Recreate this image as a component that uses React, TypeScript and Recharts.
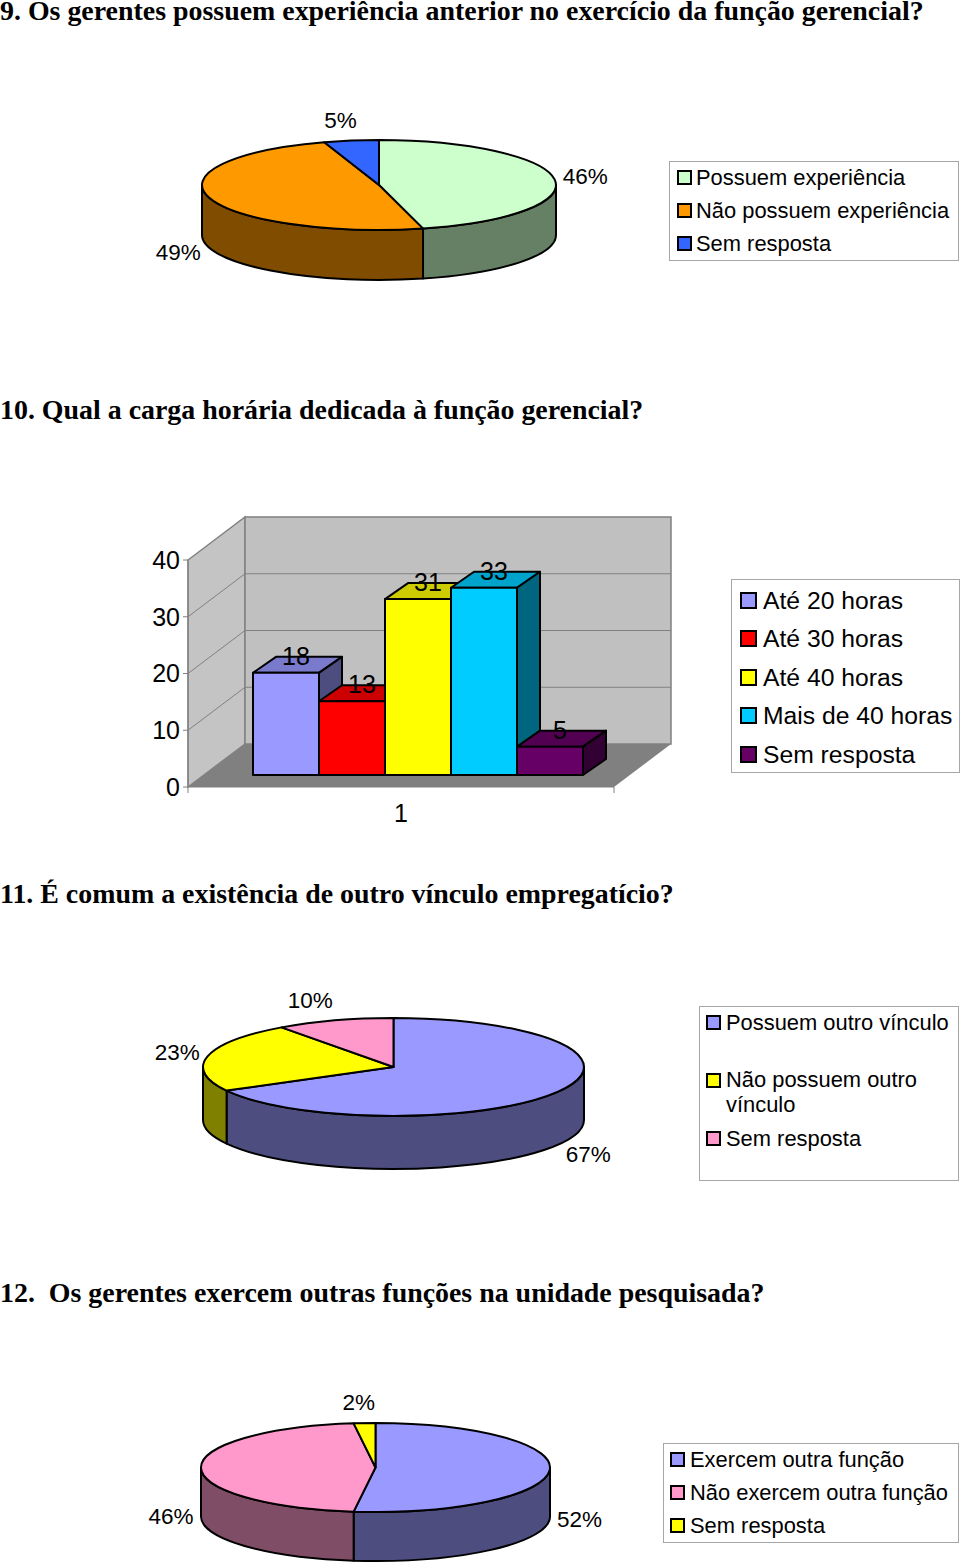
import React from 'react';
import { PieChart, Pie, BarChart, Bar, XAxis, YAxis, Legend, ReferenceArea } from 'recharts';

const SANS = '"Liberation Sans", Arial, sans-serif';
const SERIF = '"Liberation Serif", "Times New Roman", serif';

// ---- data ----
const q9Names = ['Possuem experiência', 'Não possuem experiência', 'Sem resposta'];
const q9Values = [46, 49, 5];
const q9Colors = ['#CCFFCC', '#FF9900', '#3366FF'];

const q10Names = ['Até 20 horas', 'Até 30 horas', 'Até 40 horas', 'Mais de 40 horas', 'Sem resposta'];
const q10Values = [18, 13, 31, 33, 5];
const q10Colors = ['#9999FF', '#FF0000', '#FFFF00', '#00CCFF', '#660066'];
const q10Ticks = [0, 10, 20, 30, 40];
const q10Category = ['1'];

const q11Names = ['Possuem outro vínculo', 'Não possuem outro vínculo', 'Sem resposta'];
const q11Values = [67, 23, 10];
const q11Colors = ['#9999FF', '#FFFF00', '#FF99CC'];

const q12Names = ['Exercem outra função', 'Não exercem outra função', 'Sem resposta'];
const q12Values = [52, 46, 2];
const q12Colors = ['#9999FF', '#FF99CC', '#FFFF00'];

const titles = [
  { text: '9. Os gerentes possuem experiência anterior no exercício da função gerencial?', center: 11 },
  { text: '10. Qual a carga horária dedicada à função gerencial?', center: 410 },
  { text: '11. É comum a existência de outro vínculo empregatício?', center: 894 },
  { text: '12.  Os gerentes exercem outras funções na unidade pesquisada?', center: 1293 },
];

// ---- helpers ----
const shade = (hex: string, k: number) => {
  const n = parseInt(hex.slice(1), 16);
  const c = (v: number) => Math.round(v * k).toString(16).padStart(2, '0');
  return '#' + c((n >> 16) & 255) + c((n >> 8) & 255) + c(n & 255);
};
const rad = (d: number) => (d * Math.PI) / 180;

type LegendCfg = {
  left: number; top: number; width: number; height: number;
  rows: number[]; swatchRows?: number[]; swatchX: number; swatch: number; textX: number; font: number;
};

const makeLegend = (cfg: LegendCfg) => (props: any) => (
  <div style={{ position: 'relative', width: cfg.width, height: cfg.height, boxSizing: 'border-box', border: '1px solid #a6a6a6', background: '#fff', fontFamily: SANS, color: '#000' }}>
    {(props.payload || []).map((p: any, i: number) => (
      <React.Fragment key={i}>
        <div style={{ position: 'absolute', left: cfg.swatchX, top: (cfg.swatchRows || cfg.rows)[i] - cfg.top - cfg.swatch / 2 - 1, width: cfg.swatch, height: cfg.swatch, boxSizing: 'border-box', background: p.color || p.payload?.fill, border: '2px solid #000' }} />
        <div style={{ position: 'absolute', left: cfg.textX, top: cfg.rows[i] - cfg.top - 1, transform: 'translateY(-50%)', width: cfg.width - cfg.textX - 3, fontSize: cfg.font, lineHeight: '25px' }}>{p.value}</div>
      </React.Fragment>
    ))}
  </div>
);

type PieCfg = {
  names: string[]; values: number[]; colors: string[];
  chartTop: number; chartHeight: number;
  cx: number; cy: number; rx: number; ry: number; depth: number;
  nudge: number[][];
  legend: LegendCfg;
};

function Pie3D({ names, values, colors, chartTop, chartHeight, cx, cy, rx, ry, depth, nudge, legend }: PieCfg) {
  const table = names.map((name, i) => ({ name, value: values[i], fill: colors[i] }));
  const k = ry / rx;
  const slice = (p: any) => {
    const pcx = p.cx, pcy = p.cy, r = p.outerRadius;
    const ryy = r * k;
    const t0 = 90 - p.startAngle, t1 = 90 - p.endAngle; // clockwise from top
    const pt = (t: number) => [pcx + r * Math.sin(rad(t)), pcy - ryy * Math.cos(rad(t))];
    const [sx, sy] = pt(t0);
    const [ex, ey] = pt(t1);
    const large = t1 - t0 > 180 ? 1 : 0;
    const top = `M${pcx},${pcy}L${sx},${sy}A${r},${ryy} 0 ${large} 1 ${ex},${ey}Z`;
    const a = Math.max(t0, 90), b = Math.min(t1, 270);
    let wall = null;
    if (b > a) {
      const [ax, ay] = pt(a);
      const [bx, by] = pt(b);
      const lg = b - a > 180 ? 1 : 0;
      wall = `M${ax},${ay}A${r},${ryy} 0 ${lg} 1 ${bx},${by}L${bx},${by + depth}A${r},${ryy} 0 ${lg} 0 ${ax},${ay + depth}Z`;
    }
    return (
      <g>
        {wall && <path d={wall} fill={shade(p.fill, 0.5)} stroke="#000" strokeWidth={2} strokeLinejoin="round" />}
        <path d={top} fill={p.fill} stroke="#000" strokeWidth={2} strokeLinejoin="round" />
      </g>
    );
  };
  const label = (p: any) => {
    const t = 90 - p.midAngle;
    const s = Math.sin(rad(t)), c = Math.cos(rad(t));
    const n = nudge[p.index] || [0, 0];
    const x = p.cx + (p.outerRadius + 30) * s + n[0];
    const y = p.cy - (p.outerRadius * k + 19) * c + (c < 0.01 ? depth : 0) + n[1];
    return <text x={x} y={y} textAnchor="middle" dominantBaseline="central" fontSize={22.5} fontFamily={SANS} fill="#000">{`${p.value}%`}</text>;
  };
  return (
    <div style={{ position: 'absolute', left: 0, top: chartTop }}>
      <PieChart width={960} height={chartHeight} margin={{ top: 0, right: 0, bottom: 0, left: 0 }}>
        <Pie data={table} dataKey="value" nameKey="name" cx={cx} cy={cy - chartTop} outerRadius={rx} innerRadius={0}
          startAngle={90} endAngle={-270} paddingAngle={0} shape={slice} label={label} labelLine={false} isAnimationActive={false} />
        <Legend layout="vertical" align="center" verticalAlign="middle" itemSorter={null} content={makeLegend(legend)}
          wrapperStyle={{ left: legend.left, top: legend.top - chartTop, width: legend.width, height: legend.height }} />
      </PieChart>
    </div>
  );
}

// ---- 3D bar chart ----
const WALL_DX = 57, WALL_DY = -43;
const BAR_DX = 17, BAR_DY = -12;
const CAP_DX = 23, CAP_DY = -16;

const Walls = (p: any) => {
  const { x, y, width: w, height: h } = p;
  const b = y + h;
  const max = q10Ticks[q10Ticks.length - 1];
  return (
    <g>
      <polygon points={`${x},${b} ${x + WALL_DX},${b + WALL_DY} ${x + WALL_DX},${y + WALL_DY} ${x},${y}`} fill="#c4c4c4" stroke="#808080" strokeWidth={1.5} />
      <rect x={x + WALL_DX} y={y + WALL_DY} width={w} height={h} fill="#c0c0c0" stroke="#808080" strokeWidth={1.5} />
      <polygon points={`${x},${b} ${x + w},${b} ${x + w + WALL_DX},${b + WALL_DY} ${x + WALL_DX},${b + WALL_DY}`} fill="#808080" />
      {q10Ticks.slice(1, -1).map((t) => {
        const ty = y + h * (1 - t / max);
        return <polyline key={t} points={`${x},${ty} ${x + WALL_DX},${ty + WALL_DY} ${x + w + WALL_DX},${ty + WALL_DY}`} fill="none" stroke="#808080" strokeWidth={1} />;
      })}
      <line x1={x + w} y1={b} x2={x + w} y2={b + 6} stroke="#808080" />
      <line x1={x} y1={b} x2={x} y2={b + 6} stroke="#808080" />
    </g>
  );
};

const Bar3D = (p: any) => {
  const x = p.x + BAR_DX, y = p.y + BAR_DY, w = p.width, h = p.height, f = p.fill;
  return (
    <g stroke="#000" strokeWidth={2} strokeLinejoin="round">
      <polygon points={`${x},${y} ${x + CAP_DX},${y + CAP_DY} ${x + w + CAP_DX},${y + CAP_DY} ${x + w},${y}`} fill={shade(f, 0.8)} />
      <polygon points={`${x + w},${y} ${x + w + CAP_DX},${y + CAP_DY} ${x + w + CAP_DX},${y + h + CAP_DY} ${x + w},${y + h}`} fill={shade(f, 0.5)} />
      <rect x={x} y={y} width={w} height={h} fill={f} />
    </g>
  );
};

const barLabel = (p: any) => (
  <text x={p.x + p.width / 2 + BAR_DX + 10} y={p.y + BAR_DY - 8} textAnchor="middle" fontSize={25} fontFamily={SANS} fill="#000">{p.value}</text>
);

const barTable = q10Category.map((cat) => {
  const row: any = { cat };
  q10Names.forEach((n, i) => { row['s' + i] = q10Values[i]; });
  return row;
});

const barLegend: LegendCfg = { left: 731, top: 579, width: 229, height: 194, rows: [600, 638, 677, 715, 754], swatchX: 8, swatch: 17, textX: 31, font: 24.7 };

function BarSection() {
  const top = 500;
  return (
    <div style={{ position: 'absolute', left: 0, top }}>
      <BarChart width={960} height={340} data={barTable} barGap={0} barCategoryGap={48}
        margin={{ top: 60, right: 346, bottom: 23, left: 0 }}>
        <XAxis dataKey="cat" height={30} axisLine={{ stroke: '#808080' }} tickLine={false} tickMargin={11}
          tick={{ fontSize: 25, fontFamily: SANS, fill: '#000' }} />
        <YAxis domain={[0, 40]} ticks={q10Ticks} width={188} interval={0} axisLine={{ stroke: '#808080' }} tickLine={{ stroke: '#808080' }} tickSize={5} tickMargin={3}
          tick={{ fontSize: 25, fontFamily: SANS, fill: '#000' }} />
        <ReferenceArea y1={0} y2={40} shape={Walls} ifOverflow="visible" />
        {q10Names.map((n, i) => (
          <Bar key={n} dataKey={'s' + i} name={n} fill={q10Colors[i]} shape={Bar3D} label={barLabel} isAnimationActive={false} />
        ))}
        <Legend layout="vertical" align="center" verticalAlign="middle" itemSorter={null} content={makeLegend(barLegend)}
          wrapperStyle={{ left: barLegend.left, top: barLegend.top - top, width: barLegend.width, height: barLegend.height }} />
      </BarChart>
    </div>
  );
}

export default function App() {
  return (
    <div style={{ position: 'absolute', left: 0, top: 0, width: 960, height: 1567, overflow: 'hidden', background: '#fff' }}>
      {titles.map((t) => (
        <div key={t.text} style={{ position: 'absolute', left: 0, top: t.center - 11, height: 22, lineHeight: '22px', whiteSpace: 'pre', fontFamily: SERIF, fontWeight: 'bold', fontSize: 27.9, color: '#000' }}>{t.text}</div>
      ))}
      <Pie3D names={q9Names} values={q9Values} colors={q9Colors} chartTop={90} chartHeight={210}
        cx={379} cy={185} rx={177} ry={45} depth={50} nudge={[[1, 0], [-2, 0], [-6, -1]]}
        legend={{ left: 669, top: 161, width: 290, height: 100, rows: [177, 210, 243], swatchX: 7, swatch: 15, textX: 26, font: 21.9 }} />
      <BarSection />
      <Pie3D names={q11Names} values={q11Values} colors={q11Colors} chartTop={980} chartHeight={210}
        cx={393.5} cy={1067} rx={190.5} ry={49} depth={53} nudge={[[5, 0], [-1, 0], [-15, -2]]}
        legend={{ left: 699, top: 1006, width: 260, height: 175, rows: [1022, 1092, 1138], swatchRows: [1022, 1080, 1138], swatchX: 6, swatch: 15, textX: 26, font: 21.9 }} />
      <Pie3D names={q12Names} values={q12Values} colors={q12Colors} chartTop={1385} chartHeight={182}
        cx={375.5} cy={1467.5} rx={174.5} ry={44.5} depth={49} nudge={[[0, -1], [0, 0], [-4, -2]]}
        legend={{ left: 663, top: 1443, width: 296, height: 100, rows: [1459, 1492, 1525], swatchX: 6, swatch: 15, textX: 26, font: 21.9 }} />
    </div>
  );
}
